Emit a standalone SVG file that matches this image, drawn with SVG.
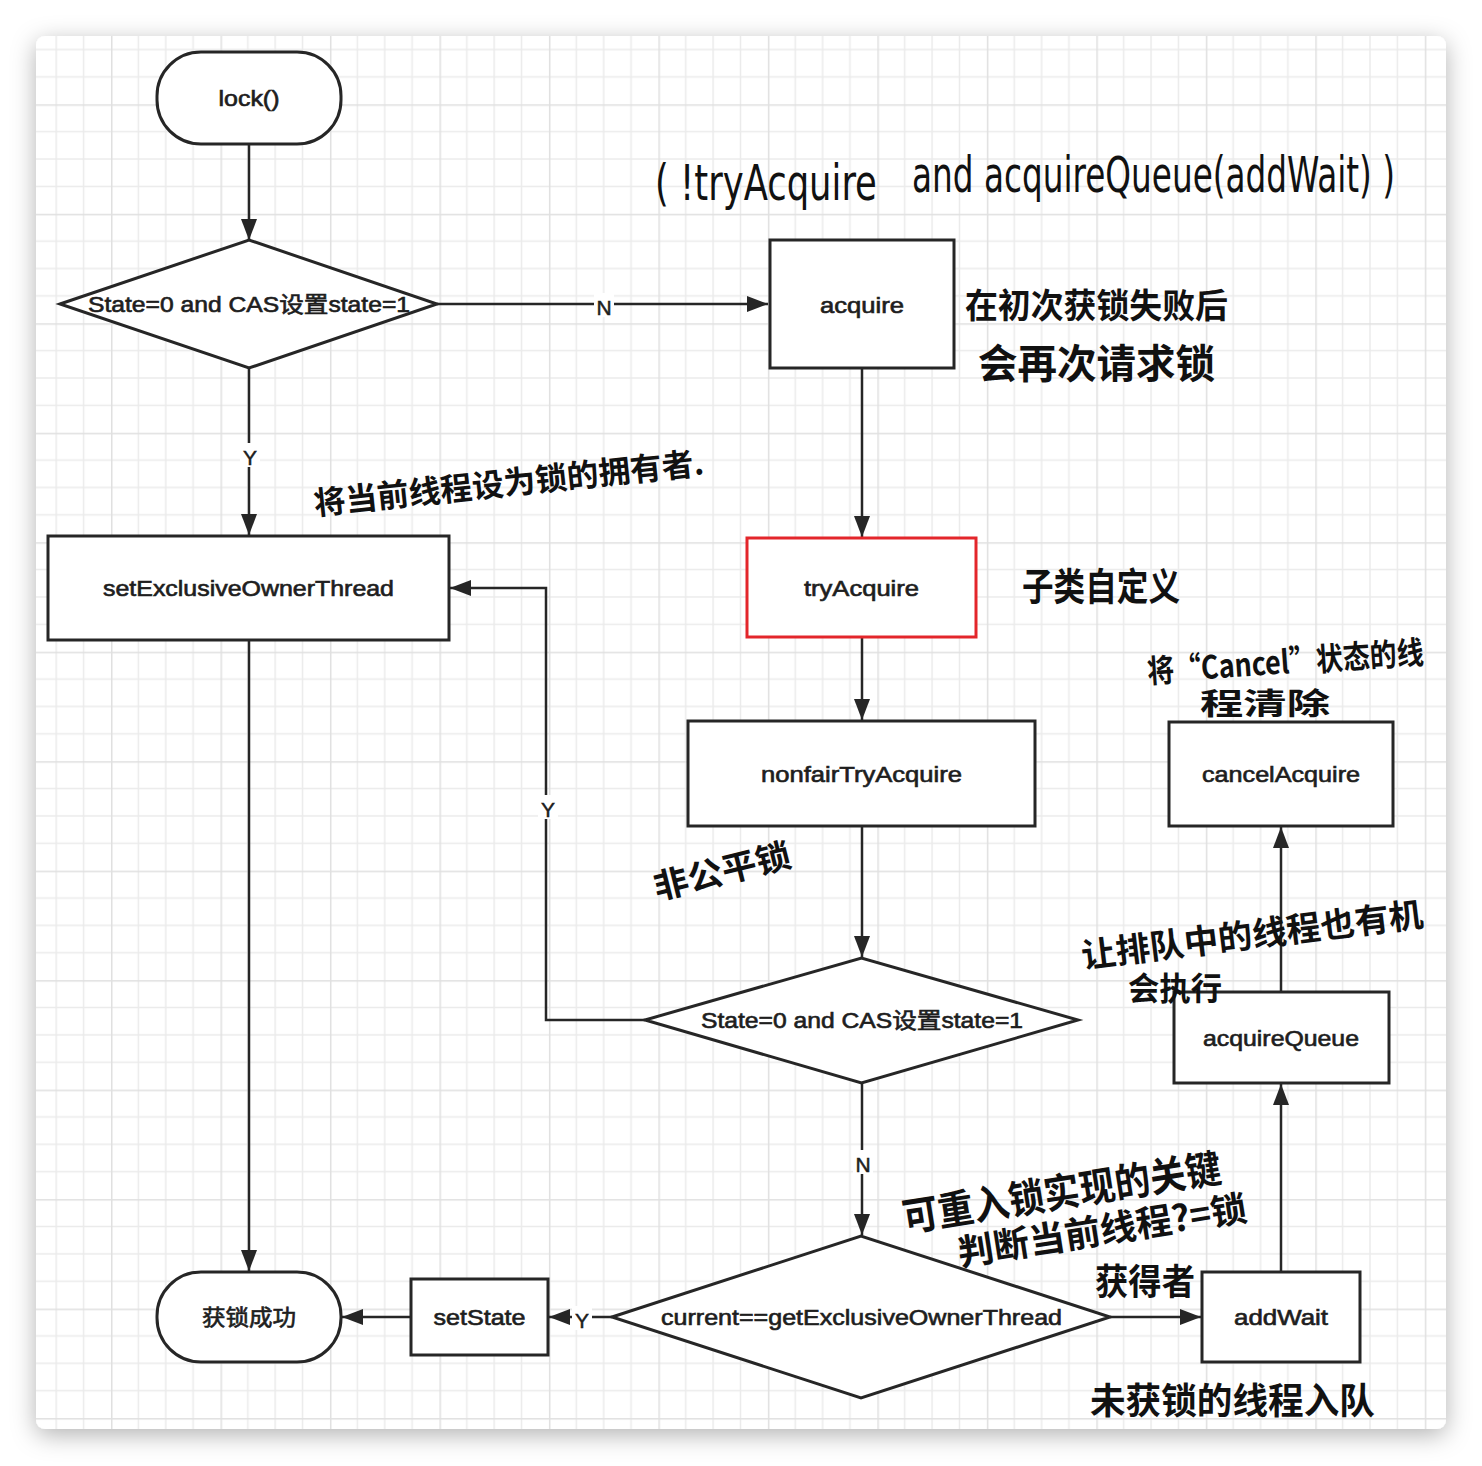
<svg xmlns="http://www.w3.org/2000/svg" width="1482" height="1466" viewBox="0 0 1482 1466">
  <defs>
    <style>
      .box { fill: #ffffff; stroke: #262626; stroke-width: 3; }
      .red { stroke: #e3262b; }
      .lbl { font-family: "Liberation Sans", "Noto Sans CJK SC", sans-serif; font-size: 22px; fill: #1e1e1e; stroke: #1e1e1e; stroke-width: 0.65; text-anchor: middle; }
      .edge { fill: none; stroke: #262626; stroke-width: 2.5; }
      .tag { font-family: "Liberation Sans", sans-serif; font-size: 21px; fill: #1e1e1e; stroke: #1e1e1e; stroke-width: 0.5; text-anchor: middle; }
      .tagbg { fill: #ffffff; }
      .hand { font-family: "Noto Sans CJK SC", sans-serif; font-weight: 700; fill: #111111; }
      .handlatin { font-family: "DejaVu Sans Condensed", "Liberation Sans Narrow", sans-serif; fill: #111111; }
    </style>
    <marker id="arrow" markerUnits="userSpaceOnUse" markerWidth="21" markerHeight="16" refX="21" refY="8" orient="auto">
      <path d="M0,0 L21,8 L0,16 Z" fill="#262626"/>
    </marker>
    <pattern id="grid" patternUnits="userSpaceOnUse" x="111" y="104.3" width="109.48" height="109.48">
      <g stroke="#ebebeb" stroke-width="1.5">
        <path d="M27.37,0 V109.48 M54.74,0 V109.48 M82.11,0 V109.48 M0,27.37 H109.48 M0,54.74 H109.48 M0,82.11 H109.48"/>
      </g>
      <path d="M0.75,0 V109.48 M0,0.75 H109.48" stroke="#e0e0e0" stroke-width="1.5"/>
    </pattern>
    <filter id="shadow" x="-10%" y="-10%" width="120%" height="120%">
      <feDropShadow dx="0" dy="6" stdDeviation="12" flood-color="#000000" flood-opacity="0.3"/>
    </filter>
  </defs>

  <!-- page and grid card -->
  <rect x="0" y="0" width="1482" height="1466" fill="#ffffff"/>
  <rect x="36" y="36" width="1410" height="1393" rx="9" fill="#ffffff" filter="url(#shadow)"/>
  <rect x="36" y="36" width="1410" height="1393" rx="9" fill="url(#grid)"/>

  <!-- connectors -->
  <g id="connectors">
    <path class="edge" d="M249,144 V240" marker-end="url(#arrow)"/>
    <path class="edge" d="M437,304 H768" marker-end="url(#arrow)"/>
    <path class="edge" d="M249,368 V535" marker-end="url(#arrow)"/>
    <path class="edge" d="M862,368 V537" marker-end="url(#arrow)"/>
    <path class="edge" d="M862,637 V720" marker-end="url(#arrow)"/>
    <path class="edge" d="M862,826 V957" marker-end="url(#arrow)"/>
    <path class="edge" d="M645,1020 H546 V588 H450" marker-end="url(#arrow)"/>
    <path class="edge" d="M862,1083 V1235" marker-end="url(#arrow)"/>
    <path class="edge" d="M612,1317 H549" marker-end="url(#arrow)"/>
    <path class="edge" d="M411,1317 H342" marker-end="url(#arrow)"/>
    <path class="edge" d="M249,640 V1271" marker-end="url(#arrow)"/>
    <path class="edge" d="M1110,1317 H1201" marker-end="url(#arrow)"/>
    <path class="edge" d="M1281,1272 V1084" marker-end="url(#arrow)"/>
    <path class="edge" d="M1281,992 V827" marker-end="url(#arrow)"/>
    <!-- branch labels -->
    <rect class="tagbg" x="594" y="293" width="20" height="24"/>
    <text class="tag" x="604" y="315">N</text>
    <rect class="tagbg" x="240" y="443" width="20" height="24"/>
    <text class="tag" x="250" y="465">Y</text>
    <rect class="tagbg" x="538" y="795" width="20" height="24"/>
    <text class="tag" x="548" y="817">Y</text>
    <rect class="tagbg" x="853" y="1150" width="20" height="24"/>
    <text class="tag" x="863" y="1172">N</text>
    <rect class="tagbg" x="572" y="1306" width="20" height="24"/>
    <text class="tag" x="582" y="1328">Y</text>
  </g>

  <!-- nodes -->
  <g id="lock">
    <rect class="box" x="157" y="52" width="184" height="92" rx="44"/>
    <text class="lbl" x="249" y="106" textLength="61" lengthAdjust="spacingAndGlyphs">lock()</text>
  </g>
  <g id="check-state">
    <path class="box" d="M60,304 L249,240 L437,304 L249,368 Z"/>
    <text class="lbl" x="249" y="312" textLength="322" lengthAdjust="spacingAndGlyphs">State=0 and CAS设置state=1</text>
  </g>
  <g id="acquire">
    <rect class="box" x="770" y="240" width="184" height="128"/>
    <text class="lbl" x="862" y="313" textLength="84" lengthAdjust="spacingAndGlyphs">acquire</text>
  </g>
  <g id="set-owner">
    <rect class="box" x="48" y="536" width="401" height="104"/>
    <text class="lbl" x="248.5" y="596" textLength="291" lengthAdjust="spacingAndGlyphs">setExclusiveOwnerThread</text>
  </g>
  <g id="try-acquire">
    <rect class="box red" x="747" y="538" width="229" height="99"/>
    <text class="lbl" x="861.5" y="596" textLength="115" lengthAdjust="spacingAndGlyphs">tryAcquire</text>
  </g>
  <g id="nonfair-try-acquire">
    <rect class="box" x="688" y="721" width="347" height="105"/>
    <text class="lbl" x="861.5" y="782" textLength="201" lengthAdjust="spacingAndGlyphs">nonfairTryAcquire</text>
  </g>
  <g id="check-state-again">
    <path class="box" d="M645,1020 L861.5,958 L1078,1020 L861.5,1083 Z"/>
    <text class="lbl" x="862" y="1028" textLength="322" lengthAdjust="spacingAndGlyphs">State=0 and CAS设置state=1</text>
  </g>
  <g id="check-owner">
    <path class="box" d="M612,1317 L861,1236 L1110,1317 L861,1398 Z"/>
    <text class="lbl" x="861.5" y="1325" textLength="401" lengthAdjust="spacingAndGlyphs">current==getExclusiveOwnerThread</text>
  </g>
  <g id="set-state">
    <rect class="box" x="411" y="1279" width="137" height="76"/>
    <text class="lbl" x="479.5" y="1325" textLength="92" lengthAdjust="spacingAndGlyphs">setState</text>
  </g>
  <g id="lock-acquired">
    <rect class="box" x="157" y="1272" width="184" height="90" rx="44"/>
    <text class="lbl" x="249" y="1325" textLength="94" lengthAdjust="spacingAndGlyphs">获锁成功</text>
  </g>
  <g id="add-wait">
    <rect class="box" x="1202" y="1272" width="158" height="90"/>
    <text class="lbl" x="1281" y="1325" textLength="94" lengthAdjust="spacingAndGlyphs">addWait</text>
  </g>
  <g id="acquire-queue">
    <rect class="box" x="1174" y="992" width="215" height="91"/>
    <text class="lbl" x="1281" y="1046" textLength="156" lengthAdjust="spacingAndGlyphs">acquireQueue</text>
  </g>
  <g id="cancel-acquire">
    <rect class="box" x="1169" y="722" width="224" height="104"/>
    <text class="lbl" x="1281" y="782" textLength="158" lengthAdjust="spacingAndGlyphs">cancelAcquire</text>
  </g>

  <!-- handwritten notes -->
  <g id="notes">
    <text class="handlatin" font-size="50" transform="translate(655 200) scale(0.7 1)" x="0" y="0" textLength="317" lengthAdjust="spacingAndGlyphs">( !tryAcquire</text>
    <text class="handlatin" font-size="50" transform="translate(912 192) scale(0.7 1)" x="0" y="0" textLength="690" lengthAdjust="spacingAndGlyphs">and acquireQueue(addWait) )</text>
    <text class="hand" font-size="34" x="965" y="318" textLength="263" lengthAdjust="spacingAndGlyphs">在初次获锁失败后</text>
    <text class="hand" font-size="40" x="978" y="378" textLength="237" lengthAdjust="spacingAndGlyphs">会再次请求锁</text>
    <text class="hand" font-size="32" x="315" y="515" textLength="392" lengthAdjust="spacingAndGlyphs" transform="rotate(-6 315 515)">将当前线程设为锁的拥有者.</text>
    <text class="hand" font-size="38" x="1022" y="600" textLength="158" lengthAdjust="spacingAndGlyphs">子类自定义</text>
    <text class="hand" font-size="32" x="1148" y="683" textLength="277" lengthAdjust="spacingAndGlyphs" transform="rotate(-4 1148 683)">将“Cancel”状态的线</text>
    <text class="hand" font-size="30" x="1200" y="714" textLength="130" lengthAdjust="spacingAndGlyphs">程清除</text>
    <text class="hand" font-size="34" x="657" y="900" textLength="140" lengthAdjust="spacingAndGlyphs" transform="rotate(-14 657 900)">非公平锁</text>
    <text class="hand" font-size="34" x="1083" y="968" textLength="344" lengthAdjust="spacingAndGlyphs" transform="rotate(-7 1083 968)">让排队中的线程也有机</text>
    <text class="hand" font-size="32" x="1128" y="1000" textLength="94" lengthAdjust="spacingAndGlyphs">会执行</text>
    <text class="hand" font-size="40" x="905" y="1232" textLength="322" lengthAdjust="spacingAndGlyphs" transform="rotate(-9 905 1232)">可重入锁实现的关键</text>
    <text class="hand" font-size="36" x="960" y="1266" textLength="292" lengthAdjust="spacingAndGlyphs" transform="rotate(-9 960 1266)">判断当前线程?=锁</text>
    <text class="hand" font-size="36" x="1095" y="1295" textLength="100" lengthAdjust="spacingAndGlyphs">获得者</text>
    <text class="hand" font-size="36" x="1090" y="1414" textLength="285" lengthAdjust="spacingAndGlyphs">未获锁的线程入队</text>
  </g>
</svg>
